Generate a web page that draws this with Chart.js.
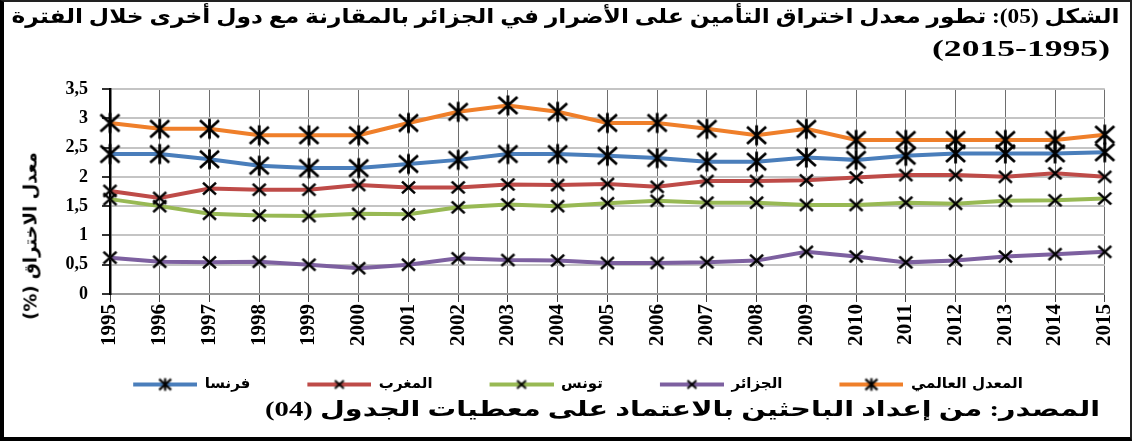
<!DOCTYPE html>
<html>
<head>
<meta charset="utf-8">
<script src="https://cdn.jsdelivr.net/npm/chart.js@4.4.1/dist/chart.umd.min.js"></script>
<style>
  html, body { margin: 0; padding: 0; background: #fff; }
  #wrap { position: relative; width: 1132px; height: 441px; overflow: hidden; }
  #c { position: absolute; left: 0; top: 0; }
  .txt { position: absolute; font-family: 'Liberation Serif', 'DejaVu Sans', serif; font-weight: bold; color: #000;
         white-space: nowrap; transform-origin: right center; }
  #t1 { right: 12px; top: 4px; font-size: 20px; }
  #t2 { right: 22px; top: 35px; font-size: 24px; }
  #src { right: 32px; top: 397px; font-size: 21px; }
  #ytitre { left: 30px; top: 236px; font-family: 'DejaVu Sans', sans-serif; font-size: 18px;
            transform: translate(-50%, -50%) rotate(-90deg); transform-origin: center center; }
  #frame { position: absolute; left: 0; top: 0; width: 1132px; height: 441px; box-sizing: border-box;
           border: 2px solid #222; border-left: 4px solid #000; border-bottom: 4px solid #000; pointer-events: none; }
</style>
</head>
<body>
<div id="wrap">
  <canvas id="c" width="1132" height="441"></canvas>
  <div id="t1" class="txt" dir="rtl">الشكل (05): تطور معدل اختراق التأمين على الأضرار في الجزائر بالمقارنة مع دول أخرى خلال الفترة</div>
  <div id="t2" class="txt" dir="rtl">(2015-1995)</div>
  <div id="ytitre" class="txt" dir="rtl">معدل الاختراق (%)</div>
  <div id="src" class="txt" dir="rtl">المصدر: من إعداد الباحثين بالاعتماد على معطيات الجدول (04)</div>
  <div id="frame"></div>
</div>
<script>
// السنوات
const annees = ['1995', '1996', '1997', '1998', '1999', '2000', '2001', '2002', '2003', '2004', '2005',
                '2006', '2007', '2008', '2009', '2010', '2011', '2012', '2013', '2014', '2015'];

// معدل الاختراق (%)
const france  = [2.39, 2.39, 2.30, 2.19, 2.15, 2.15, 2.22, 2.29, 2.39, 2.39, 2.36, 2.32, 2.26, 2.26, 2.33, 2.29, 2.36, 2.40, 2.40, 2.40, 2.42];
const maroc   = [1.76, 1.64, 1.80, 1.78, 1.78, 1.86, 1.82, 1.82, 1.87, 1.86, 1.88, 1.83, 1.93, 1.93, 1.94, 1.99, 2.03, 2.03, 2.00, 2.06, 2.00];
const tunisie = [1.62, 1.50, 1.37, 1.34, 1.33, 1.37, 1.36, 1.48, 1.53, 1.50, 1.55, 1.59, 1.56, 1.56, 1.52, 1.52, 1.56, 1.54, 1.59, 1.60, 1.63];
const algerie = [0.62, 0.55, 0.54, 0.55, 0.50, 0.44, 0.50, 0.61, 0.58, 0.57, 0.53, 0.53, 0.54, 0.57, 0.72, 0.64, 0.54, 0.57, 0.64, 0.68, 0.72];
const monde   = [2.92, 2.82, 2.82, 2.71, 2.71, 2.71, 2.92, 3.11, 3.22, 3.11, 2.92, 2.92, 2.82, 2.71, 2.82, 2.63, 2.63, 2.63, 2.63, 2.63, 2.72];

const noms = ['فرنسا', 'المغرب', 'تونس', 'الجزائر', 'المعدل العالمي'];
const couleurs = ['#4a7ebb', '#be4b48', '#98b954', '#7d60a0', '#ef7f2a'];
const etoile = [true, false, false, false, true];
const series = [france, maroc, tunisie, algerie, monde];

// marqueur noir (X ou astérisque)
function marqueur(r, star, lw) {
    const c = document.createElement('canvas');
    const s = Math.ceil(r * 2 + lw * 2 + 4);
    c.width = c.height = s;
    const g = c.getContext('2d');
    const m = s / 2;
    g.strokeStyle = '#000';
    g.lineWidth = lw;
    g.beginPath();
    g.moveTo(m - r, m - r * 0.9); g.lineTo(m + r, m + r * 0.9);
    g.moveTo(m - r, m + r * 0.9); g.lineTo(m + r, m - r * 0.9);
    if (star) { g.moveTo(m, m - r * 1.05); g.lineTo(m, m + r * 1.05); }
    g.stroke();
    return c;
}

// symbole de légende : espace + trait + marqueur
const ECART = 28;
function symbole(couleur, star) {
    const c = document.createElement('canvas');
    c.width = 64 + ECART; c.height = 18;
    const g = c.getContext('2d');
    g.strokeStyle = couleur;
    g.lineWidth = 4;
    g.beginPath(); g.moveTo(ECART, 9); g.lineTo(64 + ECART, 9); g.stroke();
    const mk = star ? marqueur(6, true, 2.2) : marqueur(4.5, false, 2);
    g.drawImage(mk, ECART + 32 - mk.width / 2, 9 - mk.height / 2);
    return c;
}

const datasets = series.map((d, i) => ({
    label: noms[i],
    data: d,
    borderColor: couleurs[i],
    backgroundColor: couleurs[i],
    borderWidth: 4,
    tension: 0,
    pointStyle: etoile[i] ? marqueur(9.5, true, 2.8) : marqueur(6.5, false, 2.6),
    pointRadius: 10,
    clip: false
}));

const police = "'Liberation Serif', 'DejaVu Serif', serif";

new Chart(document.getElementById('c'), {
    type: 'line',
    data: { labels: annees, datasets: datasets },
    options: {
        responsive: false,
        animation: false,
        layout: { padding: { top: 89, left: 8, right: 12, bottom: 39 } },
        plugins: {
            legend: {
                position: 'bottom',
                labels: {
                    usePointStyle: true,
                    pointStyleWidth: 64 + ECART,
                    padding: 29,
                    color: '#000',
                    font: { family: "'DejaVu Sans', sans-serif", size: 15, weight: 'bold' },
                    generateLabels: chart => Chart.defaults.plugins.legend.labels.generateLabels(chart)
                        .map((it, i) => Object.assign(it, { pointStyle: symbole(couleurs[i], etoile[i]) }))
                }
            },
            tooltip: { enabled: false }
        },
        scales: {
            x: {
                grid: { color: '#6e6e6e', lineWidth: 1, tickLength: 8, tickColor: '#444' },
                border: { color: '#9a9a9a', width: 2 },
                ticks: {
                    color: '#000', minRotation: 90, maxRotation: 90, padding: 2,
                    font: { family: police, size: 21, weight: 'bold' }
                }
            },
            y: {
                min: 0, max: 3.5,
                grid: { color: '#c4c4c4', lineWidth: 2, tickLength: 8, tickColor: '#333' },
                border: { color: '#000', width: 2.5 },
                ticks: {
                    stepSize: 0.5, color: '#000', padding: 14,
                    font: { family: police, size: 18, weight: 'bold' },
                    callback: v => String(v).replace('.', ',')
                },
                afterFit: s => { s.width = 102; }
            }
        }
    }
});

// ajuster la largeur des textes
function etirer(id, largeur) {
    const el = document.getElementById(id);
    const w = el.getBoundingClientRect().width;
    el.style.transform = 'scaleX(' + (largeur / w) + ')';
}
etirer('t1', 1108);
etirer('t2', 178);
etirer('src', 835);
</script>
</body>
</html>
